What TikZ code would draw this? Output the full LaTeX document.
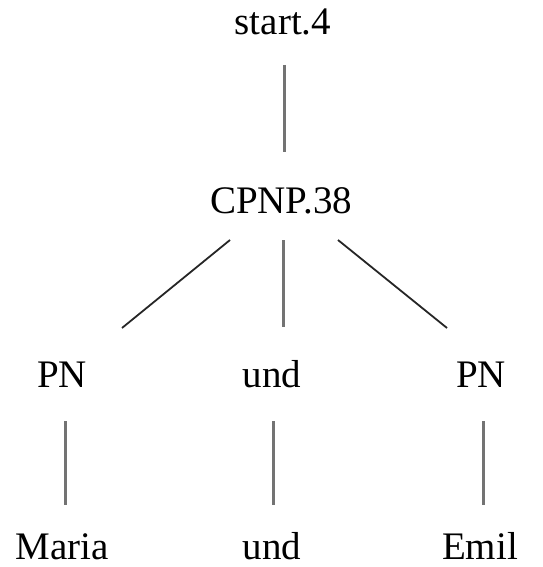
\documentclass[tikz,border=0pt]{standalone}
\usepackage{fontspec}
\setmainfont{Liberation Serif}
\usetikzlibrary{calc}
\begin{document}
\begin{tikzpicture}[x=1pt,y=1pt,
  lbl/.style={inner sep=0pt, outer sep=0pt, anchor=base, font=\fontsize{39}{44}\selectfont, text height=26pt, text depth=0pt},
  edge/.style={draw=black!55, line width=3pt},
  diag/.style={draw=black!85, line width=1.8pt}]
\useasboundingbox (0,0) rectangle (542,-567);
\node[lbl] (s) at (283,-35) {start.4};
\node[lbl] (c) at (281,-213) {CPNP.38};
\node[lbl] (p1) at (62,-387) {PN};
\node[lbl] (u1) at (272,-387) {und};
\node[lbl] (p2) at (481,-387) {PN};
\node[lbl] (m) at (62,-559) {Maria};
\node[lbl] (u2) at (272,-559) {und};
\node[lbl] (e) at (480,-559) {Emil};
\draw[edge] ($(s.center)+(1,-43)$) -- ($(s.center |- c.center)+(1,48)$);
\draw[diag] ($(c.center)+(-51,-40)$) -- ($(p1.center)+(60,46)$);
\draw[edge] ($(c.center)+(2,-40)$) -- ($(c.center |- u1.center)+(2,47)$);
\draw[diag] ($(c.center)+(57,-40)$) -- ($(p2.center)+(-34,46)$);
\draw[edge] ($(p1.center)+(3,-47)$) -- ($(p1.center |- m.center)+(3,41)$);
\draw[edge] ($(u1.center)+(1,-47)$) -- ($(u1.center |- u2.center)+(1,41)$);
\draw[edge] ($(p2.center)+(2,-47)$) -- ($(p2.center |- e.center)+(2,41)$);
\end{tikzpicture}
\end{document}
